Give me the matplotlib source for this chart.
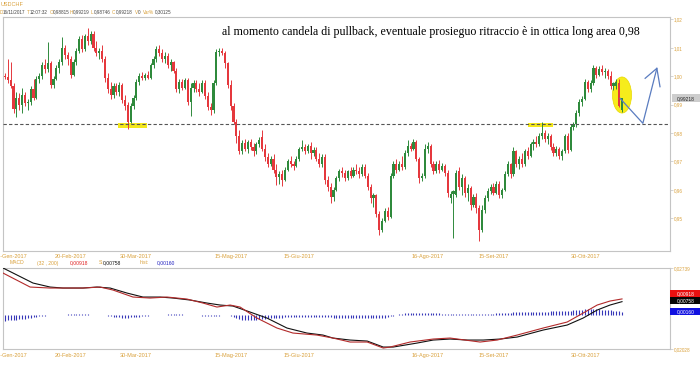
import matplotlib
matplotlib.use("Agg")
import matplotlib.pyplot as plt
from matplotlib.patches import Ellipse, Rectangle
import numpy as np

# ---------------- data ----------------
opens = [
    1.0000, 0.9998, 0.9985, 0.9965, 0.9885, 0.9925, 0.9900, 0.9935, 0.9905, 0.9910,
    0.9955, 0.9925, 0.9990, 1.0000, 1.0040, 1.0025, 1.0045, 0.9970, 0.9990, 1.0030,
    1.0050, 1.0100, 1.0075, 1.0060, 1.0005, 1.0050, 1.0090, 1.0130, 1.0095, 1.0140,
    1.0125, 1.0150, 1.0100, 1.0080, 1.0090, 1.0060, 0.9995, 0.9955, 0.9935, 0.9965,
    0.9945, 0.9970, 0.9915, 0.9900, 0.9840, 0.9895, 0.9925, 0.9980, 1.0000, 0.9995,
    1.0005, 0.9995, 1.0040, 1.0060, 1.0095, 1.0080, 1.0060, 1.0070, 1.0040, 1.0050,
    1.0020, 0.9955, 0.9980, 0.9960, 0.9985, 0.9910, 0.9960, 0.9975, 0.9955, 0.9945,
    0.9975, 0.9930, 0.9890, 0.9880, 0.9975, 1.0085, 1.0090, 1.0080, 1.0045, 0.9970,
    0.9895, 0.9840, 0.9790, 0.9735, 0.9765, 0.9745, 0.9770, 0.9750, 0.9735, 0.9760,
    0.9785, 0.9745, 0.9715, 0.9690, 0.9710, 0.9670, 0.9645, 0.9655, 0.9635, 0.9670,
    0.9700, 0.9690, 0.9685, 0.9710, 0.9745, 0.9750, 0.9735, 0.9755, 0.9730, 0.9740,
    0.9710, 0.9690, 0.9715, 0.9635, 0.9610, 0.9575, 0.9600, 0.9640, 0.9665, 0.9660,
    0.9640, 0.9665, 0.9650, 0.9670, 0.9665, 0.9655, 0.9680, 0.9650, 0.9610, 0.9570,
    0.9580, 0.9515, 0.9460, 0.9490, 0.9525, 0.9505, 0.9650, 0.9690, 0.9670, 0.9690,
    0.9680, 0.9730, 0.9755, 0.9745, 0.9770, 0.9710, 0.9640, 0.9650, 0.9745, 0.9755,
    0.9690, 0.9665, 0.9690, 0.9670, 0.9685, 0.9660, 0.9570, 0.9585, 0.9580, 0.9665,
    0.9610, 0.9640, 0.9590, 0.9605, 0.9545, 0.9575, 0.9535, 0.9460, 0.9530, 0.9570,
    0.9595, 0.9610, 0.9590, 0.9620, 0.9580, 0.9600, 0.9655, 0.9690, 0.9655, 0.9735,
    0.9690, 0.9710, 0.9690, 0.9735, 0.9720, 0.9760, 0.9770, 0.9760, 0.9790, 0.9800,
    0.9780, 0.9790, 0.9750, 0.9730, 0.9745, 0.9720, 0.9735, 0.9790, 0.9740, 0.9820,
    0.9830, 0.9870, 0.9910, 0.9920, 0.9980, 0.9955, 0.9975, 1.0030, 1.0005, 1.0025,
    1.0015, 1.0020, 1.0000, 0.9965, 0.9965, 0.9975, 0.98815,
]
highs = [
    1.0010, 1.0060, 1.0050, 0.9975, 0.9945, 0.9940, 0.9960, 0.9945, 0.9920, 0.9965,
    0.9990, 1.0000, 1.0010, 1.0050, 1.0060, 1.0120, 1.0055, 1.0000, 1.0040, 1.0060,
    1.0138, 1.0110, 1.0085, 1.0070, 1.0060, 1.0100, 1.0140, 1.0145, 1.0150, 1.0170,
    1.0160, 1.0160, 1.0125, 1.0100, 1.0110, 1.0070, 1.0010, 0.9980, 0.9975, 0.9975,
    0.9980, 0.9975, 0.9935, 0.9910, 0.9905, 0.9935, 0.9990, 1.0010, 1.0015, 1.0010,
    1.0020, 1.0045, 1.0070, 1.0105, 1.0110, 1.0095, 1.0085, 1.0080, 1.0060, 1.0055,
    1.0030, 0.9990, 0.9990, 0.9995, 0.9995, 0.9975, 0.9985, 0.9985, 0.9975, 0.9985,
    0.9985, 0.9945, 0.9905, 0.9985, 1.0095, 1.0100, 1.0100, 1.0090, 1.0050, 0.9985,
    0.9905, 0.9850, 0.9810, 0.9775, 0.9780, 0.9775, 0.9780, 0.9765, 0.9770, 0.9785,
    0.9810, 0.9760, 0.9730, 0.9720, 0.9725, 0.9690, 0.9665, 0.9670, 0.9680, 0.9710,
    0.9720, 0.9700, 0.9720, 0.9750, 0.9775, 0.9760, 0.9760, 0.9770, 0.9750, 0.9750,
    0.9730, 0.9725, 0.9725, 0.9650, 0.9625, 0.9610, 0.9650, 0.9675, 0.9680, 0.9670,
    0.9670, 0.9680, 0.9680, 0.9690, 0.9680, 0.9690, 0.9690, 0.9660, 0.9620, 0.9590,
    0.9585, 0.9525, 0.9500, 0.9535, 0.9540, 0.9660, 0.9700, 0.9710, 0.9700, 0.9720,
    0.9740, 0.9775, 0.9765, 0.9780, 0.9775, 0.9715, 0.9660, 0.9760, 0.9770, 0.9760,
    0.9700, 0.9700, 0.9705, 0.9695, 0.9690, 0.9670, 0.9595, 0.9600, 0.9670, 0.9680,
    0.9655, 0.9650, 0.9620, 0.9615, 0.9585, 0.9590, 0.9545, 0.9545, 0.9580, 0.9605,
    0.9620, 0.9625, 0.9630, 0.9630, 0.9605, 0.9665, 0.9700, 0.9695, 0.9750, 0.9740,
    0.9720, 0.9730, 0.9745, 0.9750, 0.9770, 0.9780, 0.9790, 0.9800, 0.9840, 0.9810,
    0.9800, 0.9795, 0.9765, 0.9755, 0.9750, 0.9745, 0.9795, 0.9800, 0.9830, 0.9840,
    0.9880, 0.9920, 0.9930, 0.9990, 0.9985, 0.9985, 1.0040, 1.0035, 1.0035, 1.0040,
    1.0030, 1.0025, 1.0020, 0.9980, 0.9990, 0.9990, 0.99219,
]
lows = [
    0.9990, 0.9975, 0.9960, 0.9870, 0.9855, 0.9880, 0.9870, 0.9895, 0.9880, 0.9900,
    0.9915, 0.9920, 0.9975, 0.9990, 1.0010, 1.0015, 0.9960, 0.9960, 0.9985, 1.0010,
    1.0040, 1.0060, 1.0040, 0.9995, 1.0000, 1.0040, 1.0080, 1.0085, 1.0090, 1.0110,
    1.0115, 1.0090, 1.0070, 1.0060, 1.0050, 0.9980, 0.9940, 0.9920, 0.9925, 0.9935,
    0.9930, 0.9905, 0.9880, 0.9815, 0.9835, 0.9885, 0.9915, 0.9970, 0.9985, 0.9985,
    0.9990, 0.9990, 1.0030, 1.0050, 1.0070, 1.0050, 1.0045, 1.0030, 1.0020, 1.0010,
    0.9945, 0.9940, 0.9950, 0.9955, 0.9900, 0.9860, 0.9945, 0.9945, 0.9930, 0.9940,
    0.9920, 0.9880, 0.9865, 0.9870, 0.9970, 1.0070, 1.0075, 1.0030, 0.9960, 0.9880,
    0.9830, 0.9765, 0.9725, 0.9725, 0.9735, 0.9730, 0.9740, 0.9720, 0.9725, 0.9750,
    0.9735, 0.9700, 0.9680, 0.9685, 0.9660, 0.9617, 0.9620, 0.9615, 0.9630, 0.9665,
    0.9680, 0.9670, 0.9680, 0.9700, 0.9735, 0.9725, 0.9730, 0.9710, 0.9720, 0.9700,
    0.9680, 0.9680, 0.9620, 0.9595, 0.9555, 0.9560, 0.9595, 0.9630, 0.9645, 0.9630,
    0.9635, 0.9640, 0.9645, 0.9655, 0.9640, 0.9650, 0.9640, 0.9600, 0.9555, 0.9540,
    0.9505, 0.9440, 0.9450, 0.9485, 0.9495, 0.9500, 0.9640, 0.9660, 0.9665, 0.9670,
    0.9675, 0.9720, 0.9735, 0.9740, 0.9700, 0.9625, 0.9630, 0.9640, 0.9730, 0.9680,
    0.9655, 0.9660, 0.9660, 0.9665, 0.9650, 0.9575, 0.9555, 0.9430, 0.9575, 0.9600,
    0.9580, 0.9575, 0.9560, 0.9530, 0.9540, 0.9520, 0.9420, 0.9450, 0.9520, 0.9560,
    0.9585, 0.9580, 0.9585, 0.9570, 0.9570, 0.9595, 0.9650, 0.9640, 0.9650, 0.9680,
    0.9675, 0.9680, 0.9685, 0.9710, 0.9715, 0.9740, 0.9750, 0.9755, 0.9780, 0.9770,
    0.9760, 0.9740, 0.9720, 0.9720, 0.9710, 0.9705, 0.9730, 0.9730, 0.9735, 0.9810,
    0.9820, 0.9860, 0.9895, 0.9915, 0.9945, 0.9945, 0.9970, 0.9995, 1.0000, 1.0005,
    0.9995, 0.9990, 0.9955, 0.9950, 0.9955, 0.9890, 0.98746,
]
closes = [
    0.9998, 0.9985, 0.9965, 0.9885, 0.9925, 0.9900, 0.9935, 0.9905, 0.9910, 0.9955,
    0.9925, 0.9990, 1.0000, 1.0040, 1.0025, 1.0045, 0.9970, 0.9990, 1.0030, 1.0050,
    1.0100, 1.0075, 1.0060, 1.0005, 1.0050, 1.0090, 1.0130, 1.0095, 1.0140, 1.0125,
    1.0150, 1.0100, 1.0080, 1.0090, 1.0060, 0.9995, 0.9955, 0.9935, 0.9965, 0.9945,
    0.9970, 0.9915, 0.9895, 0.9840, 0.9895, 0.9925, 0.9980, 1.0000, 0.9995, 1.0005,
    0.9995, 1.0040, 1.0060, 1.0095, 1.0080, 1.0060, 1.0070, 1.0040, 1.0050, 1.0020,
    0.9955, 0.9980, 0.9960, 0.9985, 0.9910, 0.9960, 0.9975, 0.9955, 0.9945, 0.9975,
    0.9930, 0.9890, 0.9880, 0.9975, 1.0085, 1.0090, 1.0080, 1.0045, 0.9970, 0.9895,
    0.9840, 0.9790, 0.9735, 0.9765, 0.9745, 0.9770, 0.9750, 0.9735, 0.9760, 0.9775,
    0.9745, 0.9715, 0.9690, 0.9710, 0.9670, 0.9645, 0.9655, 0.9635, 0.9670, 0.9700,
    0.9690, 0.9685, 0.9710, 0.9745, 0.9750, 0.9735, 0.9755, 0.9730, 0.9740, 0.9710,
    0.9690, 0.9715, 0.9635, 0.9610, 0.9575, 0.9600, 0.9640, 0.9665, 0.9660, 0.9640,
    0.9665, 0.9650, 0.9670, 0.9665, 0.9655, 0.9680, 0.9650, 0.9610, 0.9570, 0.9580,
    0.9515, 0.9460, 0.9490, 0.9525, 0.9505, 0.9650, 0.9690, 0.9670, 0.9690, 0.9680,
    0.9730, 0.9755, 0.9745, 0.9770, 0.9710, 0.9640, 0.9650, 0.9745, 0.9755, 0.9690,
    0.9665, 0.9690, 0.9670, 0.9685, 0.9660, 0.9590, 0.9585, 0.9595, 0.9660, 0.9610,
    0.9640, 0.9590, 0.9605, 0.9545, 0.9575, 0.9535, 0.9460, 0.9530, 0.9570, 0.9595,
    0.9610, 0.9590, 0.9620, 0.9580, 0.9600, 0.9655, 0.9690, 0.9655, 0.9735, 0.9690,
    0.9710, 0.9690, 0.9735, 0.9720, 0.9760, 0.9770, 0.9760, 0.9790, 0.9800, 0.9780,
    0.9790, 0.9750, 0.9730, 0.9745, 0.9720, 0.9735, 0.9790, 0.9740, 0.9820, 0.9830,
    0.9870, 0.9910, 0.9920, 0.9980, 0.9955, 0.9975, 1.0030, 1.0005, 1.0025, 1.0015,
    1.0020, 1.0000, 0.9965, 0.9975, 0.9980, 0.9895, 0.99218,
]

# x tick labels (candle index positions) and texts
tick_pos = [2.1, 23.1, 45.9, 79.1, 102.9, 147.8, 171.2, 203.1]
tick_labels = ["18-Gen-2017", "20-Feb-2017", "30-Mar-2017", "15-Mag-2017",
               "15-Giu-2017", "16-Ago-2017", "15-Set-2017", "30-Ott-2017"]
price_ticks = [0.95, 0.96, 0.97, 0.98, 0.99, 1.00, 1.01, 1.02]
price_tick_labels = ["0,95", "0,96", "0,97", "0,98", "0,99", "1,00", "1,01", "1,02"]

support_level = 0.9832
highlight_x0 = [39.6, 183.0]
highlight_x1 = [49.7, 192.0]
highlight_lo = [0.9818, 0.9821]
highlight_hi = [0.9835, 0.9835]
circle_center = (216.0, 0.99338)
circle_size = (6.65, 0.0127)
arrow_x = [215.3, 223.3, 228.2]
arrow_y = [0.99222, 0.98342, 1.00278]
arrowhead_x = [224.1, 228.2, 229.3]
arrowhead_y = [0.99926, 1.00278, 0.99630]

# MACD (red) and signal (black): sampled points along the curves
macd_x = [-0.7, 8.8, 15.8, 21.7, 27.3, 33.3, 37.8, 44.8, 50.8, 56.7, 63.7, 69.3, 74.2,
          78.8, 82.3, 88.2, 95.2, 100.8, 109.2, 114.8, 120.8, 126.8, 132.4, 134.8,
          141.8, 149.9, 155.8, 166.3, 172.3, 179.3, 188.4, 196.8, 202.4, 207.3, 211.8, 216.0]
macd_vals = [0.02442, 0.01618, 0.0156, 0.0156, 0.0156, 0.01618, 0.01442, 0.0103, 0.00971,
             0.0103, 0.00912, 0.00677, 0.00441, 0.00559, 0.00441, -0.00206, -0.00794,
             -0.01089, -0.01207, -0.01383, -0.01618, -0.01618, -0.01971, -0.01913,
             -0.01618, -0.01442, -0.01383, -0.01618, -0.01501, -0.01207, -0.00794,
             -0.00441, 0.00088, 0.00559, 0.00795, 0.00918]
signal_x = [-0.7, 9.8, 15.8, 20.3, 27.3, 32.2, 36.8, 42.7, 48.3, 54.3, 58.8, 64.8, 70.7,
            75.3, 79.8, 85.8, 91.7, 98.7, 105.7, 111.3, 114.8, 120.8, 126.8, 132.4, 135.9,
            144.3, 149.9, 155.8, 161.8, 167.4, 173.3, 179.3, 188.4, 196.8, 202.4, 207.3,
            211.8, 216.0]
signal_vals = [0.0274, 0.01854, 0.01618, 0.0156, 0.0156, 0.01618, 0.0156, 0.01265, 0.0103,
               0.0103, 0.00971, 0.00853, 0.00677, 0.00559, 0.005, 0.00147, -0.00206,
               -0.00794, -0.01089, -0.01207, -0.01383, -0.01501, -0.0156, -0.01913,
               -0.01913, -0.01677, -0.01501, -0.01442, -0.01501, -0.01501, -0.01442,
               -0.01324, -0.00912, -0.00618, -0.00206, 0.00265, 0.00559, 0.00758]
# histogram per candle, in units of 1e-4
hist_e4 = [
    -36, -35, -34, -32, -30, -28, -26, -24, -21, -18,
    -15, -12, -10, -8, -6, -5, -4, -3, -2, -2,
    -2, -2, 2, 2, 2, 2, 2, 2, 2, 2,
    -2, -2, -2, -2, -3, -5, -8, -11, -14, -16,
    -17, -18, -18, -18, -17, -16, -15, -13, -11, -9,
    -7, -5, -4, -3, -2, -2, -2, 2, 2, 2,
    2, 2, 2, -2, -2, -2, -3, -4, -5, -6,
    -7, -7, -8, -8, -7, -6, -4, -2, -4, -10,
    -16, -22, -27, -30, -32, -33, -33, -32, -30, -28,
    -26, -24, -22, -21, -20, -19, -18, -18, -17, -17,
    -17, -16, -16, -16, -16, -15, -15, -15, -15, -15,
    -15, -15, -15, -16, -17, -18, -18, -18, -18, -18,
    -18, -18, -18, -18, -18, -18, -18, -19, -19, -20,
    -20, -20, -20, -18, -15, -11, -7, -3, 2, 5,
    7, 9, 10, 10, 10, 10, 10, 10, 9, 9,
    8, 8, 7, 6, 5, 4, 3, 2, 2, 2,
    2, 2, 2, 2, 2, 2, 2, 2, 3, 4,
    5, 6, 7, 8, 9, 10, 11, 12, 13, 13,
    14, 14, 15, 15, 15, 16, 16, 16, 17, 17,
    17, 18, 18, 18, 19, 20, 21, 22, 23, 24,
    25, 27, 29, 30, 31, 32, 32, 31, 30, 29,
    28, 26, 24, 22, 20, 18, 16,
]
macd_last, signal_last, hist_last = 0.00918, 0.00758, 0.00160
macd_top_label, macd_bottom_label = 0.02739, -0.02028

# ---------------- style ----------------
plt.rcParams['font.family'] = ['Liberation Sans', 'DejaVu Sans']
GREEN = '#2f8a3c'
RED = '#e5383d'
ORANGE = '#d9a03a'
GRID = '#c4c4c4'
TXT = '#444444'

fig = plt.figure(figsize=(7, 3.65), dpi=100)
W, H = 700, 365

def axrect(x0, y0, x1, y1):
    return [x0 / W, 1 - y1 / H, (x1 - x0) / W, (y1 - y0) / H]

ax = fig.add_axes(axrect(3, 17, 670, 251))
ax2 = fig.add_axes(axrect(3, 268, 670, 349))

o = np.array(opens); h = np.array(highs); l = np.array(lows); c = np.array(closes)
idx = np.arange(len(c))
cols = np.where(c >= o, GREEN, RED)

xlim = (-0.7, 232.8)
for a in (ax, ax2):
    a.set_xlim(*xlim)
    for s in a.spines.values():
        s.set_color(GRID)
        s.set_linewidth(0.8)
    a.set_xticks(tick_pos)
    a.set_xticklabels(tick_labels)
    a.tick_params(axis='x', length=0, labelsize=4, labelcolor=ORANGE)
    a.yaxis.tick_right()
    a.tick_params(axis='y', length=2, width=0.5, color=GRID, labelsize=3.3,
                  labelcolor=ORANGE, pad=1)
ax.tick_params(axis='x', pad=2.4)
ax2.tick_params(axis='x', pad=3.0)

# ---- main price panel ----
ax.set_ylim(0.93845, 1.02085)
ax.set_yticks(price_ticks)
ax.set_yticklabels(price_tick_labels)

for x0, x1, lo, hi in zip(highlight_x0, highlight_x1, highlight_lo, highlight_hi):
    ax.add_patch(Rectangle((x0, lo), x1 - x0, hi - lo, facecolor='#f4e81a',
                           edgecolor='none', zorder=1))
ax.add_patch(Ellipse(circle_center, circle_size[0], circle_size[1],
                     facecolor='#f6ec1c', edgecolor='#e8d800', lw=0.5, zorder=1))

ax.vlines(idx, l, h, colors=cols, lw=0.7, zorder=3)
ax.bar(idx, np.maximum(np.abs(c - o), 0.00015), bottom=np.minimum(o, c), width=0.75,
       color=cols, linewidth=0, zorder=4)

ax.axhline(support_level, color='#555555', lw=0.8, ls=(0, (3, 2)), zorder=5)

ax.plot(arrow_x, arrow_y, color='#5a7cc0', lw=0.9, zorder=6)
ax.plot(arrowhead_x, arrowhead_y, color='#5a7cc0', lw=0.9, zorder=6)

# last price label box
ytr = ax.get_yaxis_transform()
ax.add_patch(Rectangle((1.0025, c[-1] - 0.0014), 0.0435, 0.0028, transform=ytr,
                       facecolor='#cdcdcd', edgecolor='none', clip_on=False, zorder=7))
ax.text(1.024, c[-1], "0,99218", transform=ytr, ha='center', va='center',
        fontsize=3.5, color='#222222', zorder=8, clip_on=False)

# ---- MACD panel ----
ax2.set_ylim(macd_bottom_label, macd_top_label)
ax2.set_yticks([macd_bottom_label, macd_top_label])
ax2.set_yticklabels(["0,02028", "0,02739"])
ax2.vlines(idx, 0, np.array(hist_e4) * 1e-4, colors='#3636b8', lw=0.8, zorder=2)
ax2.plot(signal_x, signal_vals, color='#111111', lw=0.8, zorder=3)
ax2.plot(macd_x, macd_vals, color='#b22a2a', lw=0.8, zorder=4)

ytr2 = ax2.get_yaxis_transform()
unit = (macd_top_label - macd_bottom_label) / 81.0  # value per pixel
for val, lab, fc, shift in [(macd_last, "0,00918", '#e81010', 5.5),
                            (signal_last, "0,00758", '#050505', 1.0),
                            (hist_last, "0,00160", '#1010e0', 0.3)]:
    yc = val + shift * unit
    ax2.add_patch(Rectangle((1.0, yc - 3.5 * unit), 0.046, 7 * unit, transform=ytr2,
                            facecolor=fc, edgecolor='none', clip_on=False, zorder=7))
    ax2.text(1.024, yc, lab, transform=ytr2, ha='center', va='center', fontsize=3.5,
             color='white', clip_on=False, zorder=8)

# ---- header texts ----
def ftext(x, y, s, color, size=3.6, **kw):
    fig.text(x / W, 1 - y / H, s, color=color, fontsize=size, va='center', ha='left', **kw)

ftext(1, 5, "USDCHF", ORANGE, size=4)
header = [(0, "D", ORANGE), (3, "16/11/2017", TXT), (27, "T", ORANGE), (29.5, "12:07:32", TXT),
          (49.5, "O", ORANGE), (53, "0,98815", TXT), (70, "H", ORANGE), (73, "0,99219", TXT),
          (91, "L", ORANGE), (94, "0,98746", TXT), (112, "C", ORANGE), (115.5, "0,99218", TXT),
          (134.5, "V", ORANGE), (138, "0", TXT), (142.5, "Var%", ORANGE), (155, "0,30125", TXT)]
for x, s, col in header:
    ftext(x, 12, s, col, size=3.3)

macd_legend = [(10, "MACD", ORANGE), (37, "(32 , 200)", ORANGE), (70, "0,00918", '#e02020'),
               (98.5, "S:", ORANGE), (103, "0,00758", '#111111'), (140, "hist:", ORANGE),
               (157, "0,00160", '#2020c0')]
for x, s, col in macd_legend:
    ftext(x, 263, s, col, size=3.6)

fig.text(222 / W, 1 - 32 / H,
         "al momento candela di pullback, eventuale prosieguo ritraccio è in ottica long area 0,98",
         fontsize=8.6, family=['Liberation Serif', 'DejaVu Serif'], color='black',
         va='center', ha='left')

fig.savefig("out.png", dpi=100)
